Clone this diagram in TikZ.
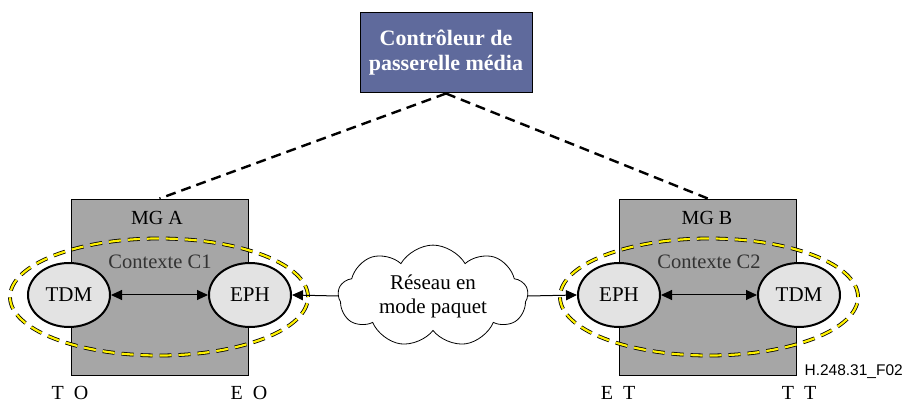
\documentclass[tikz,border=0pt]{standalone}
\usepackage{fontspec}
\setmainfont{Liberation Serif}
\newfontfamily\arialfont{Liberation Sans}
\usetikzlibrary{shapes.geometric,shapes.symbols,arrows.meta}
\definecolor{ctrlblue}{HTML}{5F6A9C}
\definecolor{mggray}{HTML}{A6A6A6}
\definecolor{ellgray}{HTML}{E3E3E3}
\definecolor{ctxyellow}{HTML}{FFF200}
\begin{document}
\begin{tikzpicture}[x=1pt,y=-1pt,
  ctrlbox/.style={draw=black, line width=1pt, fill=ctrlblue, text=white, align=center,
     font=\fontsize{22}{25}\selectfont\bfseries, minimum width=172pt, minimum height=80pt, inner sep=0pt},
  mgbox/.style={draw=black, line width=0.8pt, fill=mggray, minimum width=177pt, minimum height=176pt, inner sep=0pt},
  term/.style={ellipse, draw=black, line width=2pt, fill=ellgray, minimum width=82pt, minimum height=64pt, inner sep=0pt, font=\fontsize{21}{24}\selectfont},
  ctxblack/.style={ellipse, draw=black, line width=3.8pt, dash pattern=on 12pt off 7pt, minimum width=298pt, minimum height=117pt, inner sep=0pt},
  ctxyel/.style={ellipse, draw=ctxyellow, line width=2.2pt, dash pattern=on 12pt off 7pt, minimum width=298pt, minimum height=117pt, inner sep=0pt},
  ctlline/.style={line width=2.4pt, dash pattern=on 10pt off 6pt},
  link/.style={line width=1pt, {Triangle[length=11pt,width=10pt]}-{Triangle[length=11pt,width=10pt]}},
  linkone/.style={line width=1pt, -{Triangle[length=11pt,width=10pt]}},
  netcloud/.style={cloud, cloud puffs=9, cloud puff arc=120, aspect=2.0, draw=black, line width=0.8pt, fill=white,
     minimum width=190pt, minimum height=96pt, inner sep=0pt, align=center, font=\fontsize{21}{24}\selectfont},
  lbl/.style={font=\fontsize{20}{23}\selectfont, inner sep=0pt},
  ctxlbl/.style={font=\fontsize{20.5}{23}\selectfont, inner sep=0pt, text=black!80}
]
\useasboundingbox (0,0) rectangle (905,403);
\fill[white] (0,0) rectangle (905,403);

\node[ctrlbox] (ctrl) at (446,53) {Contrôleur de\\passerelle média};

\node[mgbox] (mgA) at (159.5,287) {};
\node[mgbox] (mgB) at (708,287) {};

\draw[ctlline] (ctrl.south) -- (mgA.north);
\draw[ctlline] (ctrl.south) -- (mgB.north);

\node[lbl] (mgAl) at (157,218) {MG A};
\node[lbl] (mgBl) at (707,218) {MG B};
\node[ctxlbl] (c1l) at (160,262) {Contexte C1};
\node[ctxlbl] (c2l) at (709,262) {Contexte C2};

\node[ctxblack] (ctxA) at (159,297) {};
\node[ctxyel] (ctxAy) at (159,297) {};
\node[ctxblack] (ctxB) at (709,297) {};
\node[ctxyel] (ctxBy) at (709,297) {};

\node[term] (tdmA) at (69,295) {TDM};
\node[term] (ephA) at (250,295) {EPH};
\node[term] (ephB) at (619,295) {EPH};
\node[term] (tdmB) at (799,295) {TDM};

\draw[link] (tdmA) -- (ephA);
\draw[link] (ephB) -- (tdmB);

\node[netcloud] (net) at (433,296) {Réseau en\\mode paquet};

\draw[linkone] (net.west) -- (ephA.east);
\draw[linkone] (net.east) -- (ephB.west);

\node[lbl] (to) at (70,393) {T\hspace{0.5em}O};
\node[lbl] (eo) at (249,393) {E\hspace{0.5em}O};
\node[lbl] (et) at (618,393) {E\hspace{0.5em}T};
\node[lbl] (tt) at (799,393) {T\hspace{0.5em}T};

\node[anchor=east, inner sep=0pt, font=\arialfont\fontsize{15.5}{18}\selectfont] (fig) at (903,372) {H.248.31\_F02};
\end{tikzpicture}
\end{document}
